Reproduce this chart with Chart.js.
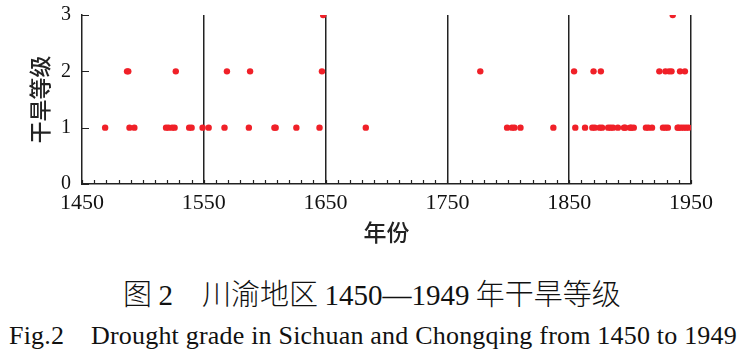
<!DOCTYPE html>
<html>
<head>
<meta charset="utf-8">
<script src="https://cdn.jsdelivr.net/npm/chart.js@4/dist/chart.umd.min.js"></script>
<style>
    html, body { margin: 0; padding: 0; background: #fff; }
    #wrap { position: relative; width: 744px; height: 360px; overflow: hidden; }
    #box { position: absolute; left: 0; top: 0; width: 744px; height: 250px; }
    .cap { position: absolute; white-space: pre; color: #111; line-height: 1; }
    #cap1 { left: 0; width: 744px; text-align: center; top: 278px; font-size: 29px; font-family: "Noto Sans CJK SC", sans-serif; font-weight: 300; }
    #cap1 .num { font-family: "Liberation Serif", serif; font-weight: 400; }
    #cap2 { left: 9px; top: 323px; font-size: 26px; letter-spacing: 0.2px; font-family: "Liberation Serif", serif; }
</style>
</head>
<body>
<div id="wrap">
    <div id="box"><canvas id="droughtChart"></canvas></div>
    <div class="cap" id="cap1">图 <span class="num">2</span>　川渝地区 <span class="num">1450—1949</span> 年干旱等级</div>
    <div class="cap" id="cap2">Fig.2    Drought grade in Sichuan and Chongqing from 1450 to 1949</div>
</div>
<script>
// Drought years by grade
const grade1Years = [1469, 1489, 1493, 1519, 1521, 1524, 1526, 1538, 1540, 1549, 1554, 1567, 1587,
    1608, 1609, 1626, 1645, 1683, 1799, 1803, 1805, 1810, 1837, 1855, 1863, 1869, 1871, 1875, 1877,
    1882, 1884, 1886, 1890, 1895, 1896, 1900, 1901, 1903, 1913, 1915, 1918, 1927, 1929, 1931,
    1939, 1940, 1942, 1944, 1946, 1948];
const grade2Years = [1487, 1488, 1527, 1569, 1588, 1647, 1777, 1854, 1870, 1876, 1924, 1929, 1932,
    1934, 1941, 1945];
const grade3Years = [1648, 1935];

// Axis ticks
const gradeTicks = [0, 1, 2, 3];
const yearLabels = [1450, 1550, 1650, 1750, 1850, 1950];

const points = [];
[[grade1Years, 1], [grade2Years, 2], [grade3Years, 3]].forEach(([years, grade]) => {
    years.forEach(y => points.push({ x: y, y: grade }));
});

// Minor tick marks, drawn inward
const innerTicks = {
    id: 'innerTicks',
    afterDraw(chart) {
        const ctx = chart.ctx;
        const xs = chart.scales.x;
        const ys = chart.scales.y;
        const bottom = ys.getPixelForValue(0);
        const left = xs.getPixelForValue(1450);
        ctx.save();
        ctx.strokeStyle = '#222';
        ctx.lineWidth = 1.2;
        ctx.beginPath();
        xs.ticks.forEach(t => {
            const px = Math.round(xs.getPixelForValue(t.value)) + 0.5;
            ctx.moveTo(px, bottom);
            ctx.lineTo(px, bottom - 4);
        });
        gradeTicks.forEach(g => {
            const py = Math.round(ys.getPixelForValue(g)) + 0.5;
            ctx.moveTo(left, py);
            ctx.lineTo(left + 7, py);
        });
        ctx.stroke();
        ctx.restore();
    }
};

const ctx = document.getElementById('droughtChart').getContext('2d');
new Chart(ctx, {
    type: 'scatter',
    data: {
        datasets: [{
            data: points,
            backgroundColor: '#f02028',
            borderWidth: 0,
            pointRadius: 3.2
        }]
    },
    options: {
        responsive: true,
        maintainAspectRatio: false,
        animation: false,
        layout: { autoPadding: false, padding: { top: 15, right: 53, left: 0, bottom: 0 } },
        plugins: { legend: { display: false }, tooltip: { enabled: false } },
        scales: {
            x: {
                type: 'linear',
                min: 1450,
                max: 1950,
                afterFit(scale) { scale.height = 66; },
                afterBuildTicks(scale) {
                    const ticks = [];
                    for (let v = 1450; v <= 1950; v += 10) ticks.push({ value: v });
                    scale.ticks = ticks;
                },
                ticks: {
                    autoSkip: false,
                    maxRotation: 0,
                    padding: 6,
                    color: '#111',
                    font: { family: 'Liberation Serif', size: 22 },
                    callback: v => yearLabels.includes(v) ? String(v) : ''
                },
                grid: {
                    drawTicks: false,
                    lineWidth: 1.5,
                    color: c => (c.tick && c.tick.value > 1450 && yearLabels.includes(c.tick.value)) ? '#222' : 'rgba(0,0,0,0)'
                },
                border: { display: true, color: '#222', width: 1.5 },
                title: {
                    display: true,
                    text: '年份',
                    color: '#222',
                    padding: { bottom: 4, top: 0 },
                    font: { family: 'Noto Sans CJK SC', size: 23, weight: 500 }
                }
            },
            y: {
                min: 0,
                max: 3,
                afterFit(scale) {
                    scale.width = 82;
                    // label overflow would otherwise push the plot top down
                    scale.paddingTop = 0;
                    scale.paddingBottom = 0;
                },
                ticks: {
                    stepSize: 1,
                    padding: 11,
                    color: '#111',
                    font: { family: 'Liberation Serif', size: 20 }
                },
                grid: { drawTicks: false, color: 'rgba(0,0,0,0)' },
                border: { display: true, color: '#222', width: 1.5 },
                title: {
                    display: true,
                    text: '干旱等级',
                    color: '#222',
                    padding: { top: 26, bottom: 0 },
                    font: { family: 'Noto Sans CJK SC', size: 22, weight: 500 }
                }
            }
        }
    },
    plugins: [innerTicks]
});
</script>
</body>
</html>
